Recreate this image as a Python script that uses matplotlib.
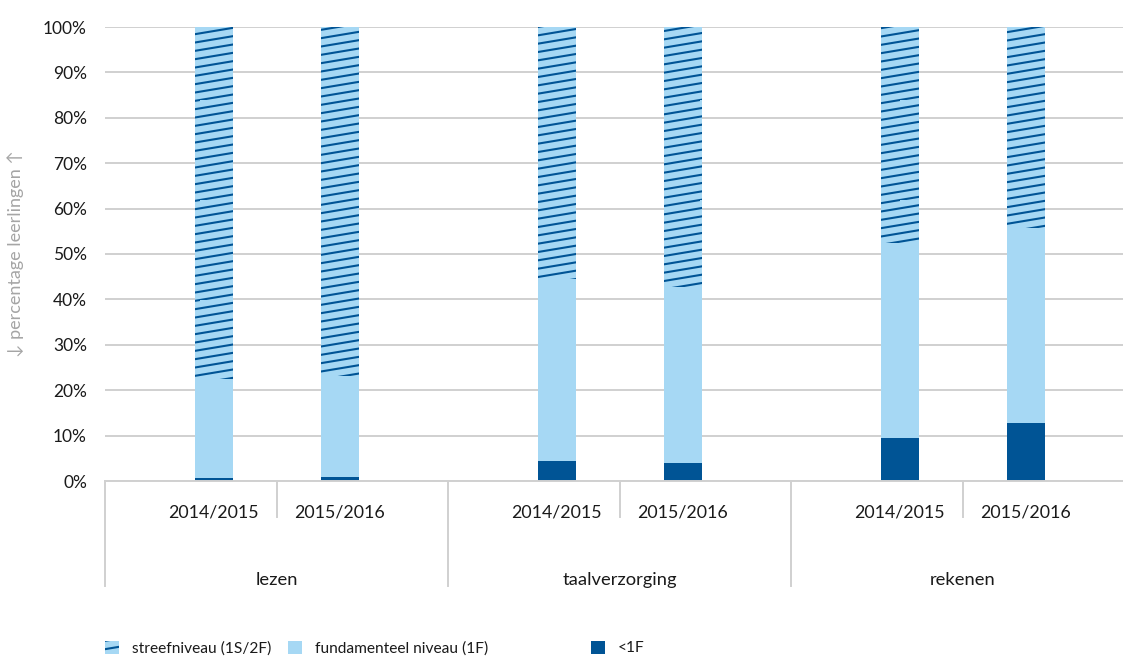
import numpy as np
import matplotlib
matplotlib.use("Agg")
import matplotlib.pyplot as plt
import matplotlib.hatch as mhatch
from matplotlib.patches import Patch
from matplotlib.path import Path
import matplotlib.transforms as mtrans

# ---------------- data ----------------
categories = ["lezen", "taalverzorging", "rekenen"]
years = ["2014/2015", "2015/2016"]
below_1f = [0.7, 0.9, 4.4, 4.0, 9.5, 12.8]          # <1F
fundamenteel = [21.7, 22.2, 40.0, 38.7, 42.9, 43.0]  # fundamenteel niveau (1F)
streef = [100 - a - b for a, b in zip(below_1f, fundamenteel)]  # streefniveau (1S/2F)
yticks = [0, 10, 20, 30, 40, 50, 60, 70, 80, 90, 100]
series_names = ["streefniveau (1S/2F)", "fundamenteel niveau (1F)", "<1F"]

# ---------------- style ----------------
LIGHT = "#a6d8f4"
DARK = "#005495"
GRID = "#d0d0d0"
TEXT = "#1a1a1a"
FONT = ["Lato", "DejaVu Sans"]
plt.rcParams["font.family"] = FONT
plt.rcParams["hatch.linewidth"] = 1.5


# custom shallow diagonal hatch replacing '/'
class ShallowHatch(mhatch.HatchPatternBase):
    N = 12
    RISE = 2  # slope = RISE / N

    def __init__(self, hatch, density):
        self.on = hatch.count('/') > 0
        self.num_lines = (self.N + 2) if self.on else 0
        self.num_vertices = self.num_lines * 2

    def set_vertices_and_codes(self, vertices, codes):
        k = 0
        for i in range(-2, self.N):
            y0 = i / self.N
            y1 = (i + self.RISE) / self.N
            vertices[k] = (0.0, y0)
            vertices[k + 1] = (1.0, y1)
            codes[k] = Path.MOVETO
            codes[k + 1] = Path.LINETO
            k += 2


mhatch._hatch_types = [ShallowHatch if t is mhatch.NorthEastHatch else t
                       for t in mhatch._hatch_types]

W, H = 1123, 657
fig = plt.figure(figsize=(W / 100, H / 100), dpi=100)
left_px, right_px, top_px, bottom_px = 105, 1123, 27, 481
ax = fig.add_axes([left_px / W, 1 - bottom_px / H,
                   (right_px - left_px) / W, (bottom_px - top_px) / H])

group_w_px = 343.0
xmax = (right_px - left_px) / group_w_px
offset = 63 / group_w_px
bar_w = 38 / group_w_px

xpos = []
for gi in range(len(categories)):
    for yi in range(len(years)):
        xpos.append(gi + 0.5 + (-offset if yi == 0 else offset))
xpos = np.array(xpos)

ax.bar(xpos, below_1f, width=bar_w, color=DARK, linewidth=0, zorder=3)
ax.bar(xpos, fundamenteel, width=bar_w, bottom=below_1f, color=LIGHT,
       linewidth=0, zorder=3)
bottom2 = np.array(below_1f) + np.array(fundamenteel)
ax.bar(xpos, streef, width=bar_w, bottom=bottom2, color=LIGHT,
       edgecolor=DARK, hatch='/', linewidth=0, zorder=3)

ax.set_xlim(0, xmax)
ax.set_ylim(0, 100)
ax.set_yticks(yticks)
ax.set_yticklabels([f"{v}%" for v in yticks], fontsize=12.5, color=TEXT)
ax.yaxis.grid(True, color=GRID, linewidth=1.4, zorder=0)
ax.set_axisbelow(True)
for s in ax.spines.values():
    s.set_visible(False)
ax.tick_params(axis="y", length=0, pad=13)
ax.tick_params(axis="x", length=0, pad=17)

ax.set_xticks(xpos)
ax.set_xticklabels(years * len(categories), fontsize=12.8, color=TEXT)

ax.set_ylabel("\u2193 percentage leerlingen \u2191", color="#a5a5a5",
              fontsize=13, labelpad=13)

# multi-level category axis separators & labels
trans = mtrans.blended_transform_factory(ax.transData, ax.transAxes)
px = 1.0 / (bottom_px - top_px)
for gi in range(len(categories) + 1):
    ax.plot([gi, gi], [0, -105 * px], transform=trans, color=GRID,
            linewidth=1.4, clip_on=False)
for gi in range(len(categories)):
    ax.plot([gi + 0.5, gi + 0.5], [0, -36 * px], transform=trans, color=GRID,
            linewidth=1.4, clip_on=False)
    ax.text(gi + 0.5, -99 * px, categories[gi], transform=trans,
            ha="center", va="center", fontsize=13.2, color=TEXT)
ax.plot([0, xmax], [0, 0], transform=trans, color=GRID, linewidth=1.4,
        clip_on=False, zorder=4)

# legends
handles = [Patch(facecolor=LIGHT, edgecolor=DARK, hatch='/', linewidth=0),
           Patch(facecolor=LIGHT, linewidth=0),
           Patch(facecolor=DARK, linewidth=0)]
leg_x = [105, 288, 591]
for h, name, lx in zip(handles, series_names, leg_x):
    fig.legend([h], [name], loc="center left",
               bbox_to_anchor=(lx / W, 1 - 648 / H), frameon=False,
               fontsize=11.2, handlelength=0.9, handleheight=0.9,
               handletextpad=0.85, borderpad=0, borderaxespad=0,
               labelcolor=TEXT)

fig.savefig("out.png", dpi=100)
